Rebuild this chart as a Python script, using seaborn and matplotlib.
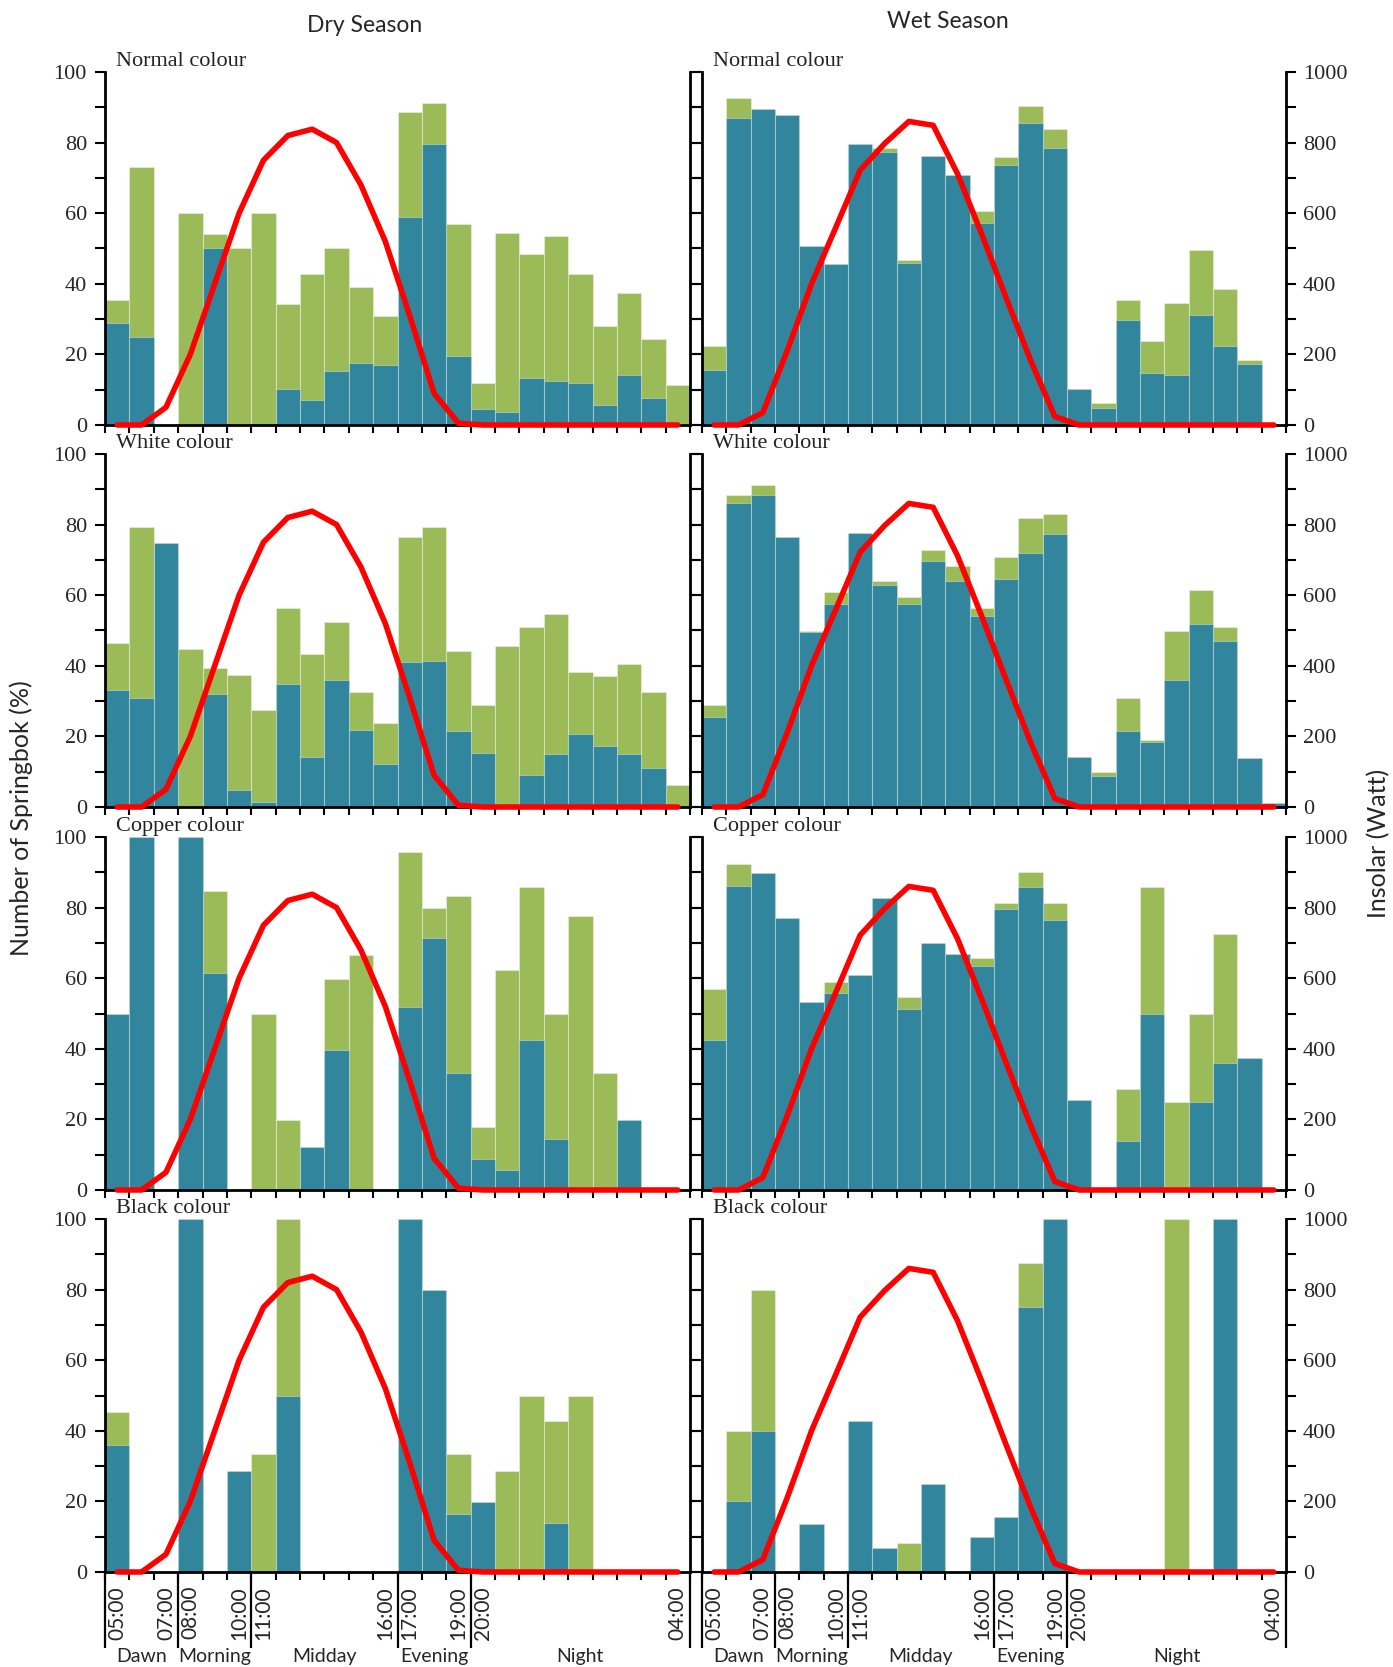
import numpy as np
import matplotlib
matplotlib.use("Agg")
import matplotlib.pyplot as plt
import seaborn as sns

# ---------------- data ----------------
hours = ["05:00", "06:00", "07:00", "08:00", "09:00", "10:00", "11:00", "12:00",
         "13:00", "14:00", "15:00", "16:00", "17:00", "18:00", "19:00", "20:00",
         "21:00", "22:00", "23:00", "00:00", "01:00", "02:00", "03:00", "04:00"]
shown_hours = ["05:00", "07:00", "08:00", "10:00", "11:00", "16:00", "17:00",
               "19:00", "20:00", "04:00"]
periods = ["Dawn", "Morning", "Midday", "Evening", "Night"]
period_first = ["05:00", "08:00", "11:00", "17:00", "20:00"]
period_last = ["07:00", "10:00", "16:00", "19:00", "04:00"]
seasons = ["Dry Season", "Wet Season"]
colour_groups = ["Normal colour", "White colour", "Copper colour", "Black colour"]

# insolation (Watt)
insolar_dry = [0, 0, 50, 200, 400, 600, 750, 820, 838, 800, 680, 520, 310, 90, 5,
               0, 0, 0, 0, 0, 0, 0, 0, 0]
insolar_wet = [0, 0, 35, 210, 400, 560, 722, 797, 860, 849, 712, 540, 360, 184, 24,
               0, 0, 0, 0, 0, 0, 0, 0, 0]

# green = total bar height, blue = lower part (%)
dry_normal_green = [35.4, 73, 0, 60, 54, 50, 60, 34.3, 42.7, 50, 39, 31, 88.6, 91.1,
                    56.9, 11.8, 54.3, 48.5, 53.6, 42.7, 28.1, 37.5, 24.4, 11.4]
dry_normal_blue = [29, 25, 0, 0, 50, 0, 0, 10.2, 7, 15.3, 17.5, 17.1, 59, 79.7,
                   19.5, 4.4, 3.6, 13.4, 12.5, 12, 5.8, 14.2, 7.6, 0]
wet_normal_green = [22.4, 92.5, 89.6, 87.8, 50.7, 45.6, 79.7, 78.5, 46.7, 76.2, 70.8,
                    60.5, 75.8, 90.3, 83.8, 10.2, 6.3, 35.5, 23.8, 34.6, 49.6, 38.4,
                    18.4, 0]
wet_normal_blue = [15.6, 87, 89.6, 87.8, 50.7, 45.6, 79.7, 77.2, 46, 76.2, 70.8, 57.2,
                   73.6, 85.6, 78.4, 10.2, 4.7, 29.8, 14.6, 14.2, 31.2, 22.3, 17.2, 0]

dry_white_green = [46.6, 79.2, 74.9, 44.8, 39.3, 37.5, 27.4, 56.4, 43.3, 52.5, 32.5,
                   23.8, 76.4, 79.2, 44.1, 28.9, 45.5, 50.9, 54.6, 38.3, 37, 40.5,
                   32.5, 6.3]
dry_white_blue = [33.1, 30.9, 74.9, 0, 32.1, 4.9, 1.5, 34.9, 14.2, 36, 21.9, 12.1,
                  41, 41.4, 21.5, 15.4, 0, 9.2, 15, 20.8, 17.2, 15, 11, 0]
wet_white_green = [28.9, 88.3, 91.2, 76.4, 49.9, 61, 77.7, 64, 59.6, 72.7, 68.4,
                   56.4, 70.9, 81.8, 82.9, 14.3, 9.9, 31, 18.9, 49.9, 61.5, 50.9,
                   13.9, 1]
wet_white_blue = [25.6, 86, 88.3, 76.4, 49.5, 57.4, 77.7, 62.8, 57.4, 69.8, 64,
                  54.2, 64.6, 72, 77.4, 14.3, 8.9, 21.5, 18.3, 36, 51.9, 47, 13.9, 1]

dry_copper_green = [50, 100, 0, 100, 84.6, 0, 50, 19.8, 12.1, 59.7, 66.7, 0, 95.8,
                    79.8, 83.4, 17.8, 62.3, 85.7, 50, 77.6, 33.2, 19.8, 0, 0]
dry_copper_blue = [50, 100, 0, 100, 61.6, 0, 0, 0, 12.1, 39.6, 0, 0, 51.7, 71.5,
                   33.1, 8.8, 5.8, 42.6, 14.5, 0, 0, 19.8, 0, 0]
wet_copper_green = [56.9, 92.3, 89.7, 77, 53.3, 59, 60.9, 82.7, 54.6, 70, 66.8,
                    65.7, 81.2, 90.2, 81.2, 25.6, 0, 28.5, 85.7, 24.8, 50, 72.5,
                    37.3, 0]
wet_copper_blue = [42.6, 86, 89.7, 77, 53.3, 55.8, 60.9, 82.7, 51.4, 70, 66.8, 63.5,
                   79.5, 85.9, 76.5, 25.6, 0, 13.9, 50, 0, 24.8, 36.1, 37.3, 0]

dry_black_green = [45.3, 0, 0, 100, 0, 28.5, 33.3, 100, 0, 0, 0, 0, 100, 80, 33.3,
                   19.8, 28.5, 50, 42.7, 50, 0, 0, 0, 0]
dry_black_blue = [36.1, 0, 0, 100, 0, 28.5, 0, 50, 0, 0, 0, 0, 100, 80, 16.5, 19.8,
                  0, 0, 13.9, 0, 0, 0, 0, 0]
wet_black_green = [0, 40, 80, 0, 13.7, 0, 42.7, 6.9, 8.1, 24.8, 0, 9.9, 15.6, 87.6,
                   100, 0, 0, 0, 0, 100, 0, 100, 0, 0]
wet_black_blue = [0, 20, 40, 0, 13.7, 0, 42.7, 6.9, 0, 24.8, 0, 9.9, 15.6, 75, 100,
                  0, 0, 0, 0, 0, 0, 100, 0, 0]

panels = [
    [(dry_normal_green, dry_normal_blue), (wet_normal_green, wet_normal_blue)],
    [(dry_white_green, dry_white_blue), (wet_white_green, wet_white_blue)],
    [(dry_copper_green, dry_copper_blue), (wet_copper_green, wet_copper_blue)],
    [(dry_black_green, dry_black_blue), (wet_black_green, wet_black_blue)],
]
insolar = [insolar_dry, insolar_wet]

# ---------------- style ----------------
GREEN = "#9BBB59"
BLUE = "#31859C"
RED = "#FF0000"
SANS = ["Lato", "DejaVu Sans"]
SERIF = ["Liberation Serif", "DejaVu Serif"]

sns.set_theme(style="white")
plt.rcParams["font.family"] = SANS

W, H = 1393, 1667
fig = plt.figure(figsize=(W / 100, H / 100), dpi=100)

col_x = [105, 702]
col_w = [585, 584]
row_top = [72, 454, 837, 1219]
ax_h = 353

spine_lw = 2.0
idx = np.arange(len(hours))

for r in range(4):
    for c in range(2):
        x0 = col_x[c] / W
        y0 = 1 - (row_top[r] + ax_h) / H
        ax = fig.add_axes([x0, y0, col_w[c] / W, ax_h / H])
        green, blue = panels[r][c]
        sns.barplot(x=hours, y=green, order=hours, color=GREEN, saturation=1,
                    width=1.0, errorbar=None, ax=ax,
                    edgecolor=(1, 1, 1, 0.35), linewidth=0.8)
        sns.barplot(x=hours, y=blue, order=hours, color=BLUE, saturation=1,
                    width=1.0, errorbar=None, ax=ax,
                    edgecolor=(1, 1, 1, 0.35), linewidth=0.8)
        ax.set_xlim(-0.5, len(hours) - 0.5)
        ax.set_ylim(0, 100)
        ax.set_xlabel("")
        ax.set_ylabel("")
        ax.spines["top"].set_visible(False)
        ax.spines["right"].set_visible(False)
        for s in ["left", "bottom"]:
            ax.spines[s].set_color("black")
            ax.spines[s].set_linewidth(spine_lw)

        # x ticks at hour boundaries
        ax.set_xticks(np.arange(-0.5, len(hours), 1.0))
        ax.set_xticklabels([])
        ax.tick_params(axis="x", which="major", direction="out", length=6,
                       width=1.5, color="black", bottom=True)

        # y ticks
        ax.set_yticks(np.arange(0, 101, 20))
        ax.set_yticks(np.arange(0, 101, 10), minor=True)
        ax.tick_params(axis="y", which="both", direction="out", length=7,
                       width=1.5, color="black", left=True)
        if c == 0:
            ax.tick_params(axis="y", labelsize=16, pad=6,
                           labelfontfamily=SERIF[0])
        else:
            ax.set_yticklabels([])

        # insolation on twin axis
        ax2 = ax.twinx()
        sns.lineplot(x=idx, y=insolar[c], ax=ax2, color=RED, linewidth=4,
                     clip_on=False)
        ax2.set_ylim(0, 1000)
        ax2.set_xlim(-0.5, len(hours) - 0.5)
        ax2.set_ylabel("")
        for s in ["top", "left", "bottom"]:
            ax2.spines[s].set_visible(False)
        ax2.spines["right"].set_color("black")
        ax2.spines["right"].set_linewidth(spine_lw)
        ax2.set_yticks(np.arange(0, 1001, 200))
        ax2.set_yticks(np.arange(0, 1001, 100), minor=True)
        ax2.tick_params(axis="y", which="both", direction="out", length=7,
                        width=1.5, color="black", right=True)
        if c == 1:
            ax2.tick_params(axis="y", labelsize=16, pad=5,
                            labelfontfamily=SERIF[0])
        else:
            ax2.set_yticklabels([])

        # panel label
        ax.text(0.018, 1.004, colour_groups[r], transform=ax.transAxes,
                ha="left", va="bottom", fontsize=16, family=SERIF,
                color="#222222")

        if r == 3:
            # time labels at hour centres
            ax.set_xticks([hours.index(h) for h in shown_hours], minor=True)
            ax.set_xticklabels(shown_hours, minor=True, rotation=90,
                               fontsize=15)
            ax.tick_params(axis="x", which="minor", length=0, pad=10)
            trans = ax.get_xaxis_transform()
            bounds = [hours.index(h) - 0.5 for h in period_first] + [len(hours) - 0.5]
            for b in bounds:
                ax.plot([b, b], [0, -0.215], transform=trans, color="black",
                        lw=1.6, clip_on=False, solid_capstyle="butt")
            for p, f, l in zip(periods, period_first, period_last):
                xm = (hours.index(f) + hours.index(l)) / 2
                ax.text(xm, -0.238, p, transform=trans, ha="center",
                        va="center", fontsize=14)

fig.text(365 / W, 1 - 25 / H, seasons[0], ha="center", va="center", fontsize=16.5)
fig.text(948 / W, 1 - 21 / H, seasons[1], ha="center", va="center", fontsize=16.5)
fig.text(21 / W, 1 - 818 / H, "Number of Springbok (%)", rotation=90,
         ha="center", va="center", fontsize=18)
fig.text(1379 / W, 1 - 843 / H, "Insolar (Watt)", rotation=90,
         ha="center", va="center", fontsize=18)

fig.savefig("out.png", dpi=100, facecolor="white")
